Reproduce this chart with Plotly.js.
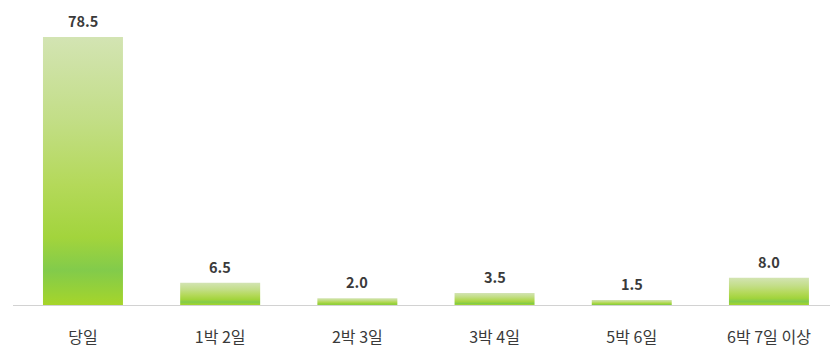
<!DOCTYPE html>
<html>
<head>
<meta charset="utf-8">
<script src="https://cdn.plot.ly/plotly-3.0.1.min.js"></script>
<style>
  html, body { margin: 0; padding: 0; background: #ffffff; }
  #chart { width: 830px; height: 348px; }
</style>
</head>
<body>
<div id="chart"></div>
<script>
const categories = ["당일", "1박 2일", "2박 3일", "3박 4일", "5박 6일", "6박 7일 이상"];
const values = [78.5, 6.5, 2.0, 3.5, 1.5, 8.0];
const valueLabels = ["78.5", "6.5", "2.0", "3.5", "1.5", "8.0"];

const idx = categories.map((_, i) => i);

const trace = {
  type: "bar",
  x: idx,
  y: values,
  width: 0.583,
  marker: { color: "#b4d95c", line: { width: 0 } },
  hoverinfo: "skip"
};

const annotations = idx.map(i => ({
  x: i,
  y: values[i],
  xref: "x",
  yref: "y",
  text: valueLabels[i],
  showarrow: false,
  yanchor: "bottom",
  yshift: 4,
  font: { family: "Noto Sans CJK KR, sans-serif", size: 14.5, color: "#3a3a3a", weight: 700 }
}));

const layout = {
  width: 830,
  height: 348,
  margin: { l: 13, r: 0, t: 10, b: 43 },
  paper_bgcolor: "#ffffff",
  plot_bgcolor: "#ffffff",
  showlegend: false,
  xaxis: {
    type: "linear",
    range: [-0.510, 5.445],
    tickvals: idx,
    ticktext: categories,
    showgrid: false,
    zeroline: false,
    showline: true,
    linecolor: "#d2d2d2",
    linewidth: 1,
    ticks: "",
    ticklabelstandoff: 18,
    tickfont: { family: "Noto Sans CJK KR, sans-serif", size: 16, color: "#3a3a3a" }
  },
  yaxis: {
    range: [0, 86.4],
    visible: false,
    showgrid: false,
    zeroline: false
  },
  annotations: annotations
};

Plotly.newPlot("chart", [trace], layout, { staticPlot: true, displayModeBar: false }).then(gd => {
  const svg = gd.querySelector("svg.main-svg");
  const ns = "http://www.w3.org/2000/svg";
  let defs = svg.querySelector("defs");
  if (!defs) { defs = document.createElementNS(ns, "defs"); svg.insertBefore(defs, svg.firstChild); }
  const grad = document.createElementNS(ns, "linearGradient");
  grad.setAttribute("id", "barGrad");
  grad.setAttribute("x1", "0"); grad.setAttribute("y1", "0");
  grad.setAttribute("x2", "0"); grad.setAttribute("y2", "1");
  const stops = [
    [0, "#d3e4b3"], [0.3, "#c3de88"], [0.55, "#b4d95a"],
    [0.75, "#a2d43c"], [0.87, "#82cb4b"], [1, "#a6d52a"]
  ];
  stops.forEach(([o, c]) => {
    const s = document.createElementNS(ns, "stop");
    s.setAttribute("offset", o);
    s.setAttribute("stop-color", c);
    grad.appendChild(s);
  });
  defs.appendChild(grad);
  gd.querySelectorAll(".bars .point path").forEach(p => {
    p.style.fill = "url(#barGrad)";
  });
});
</script>
</body>
</html>
